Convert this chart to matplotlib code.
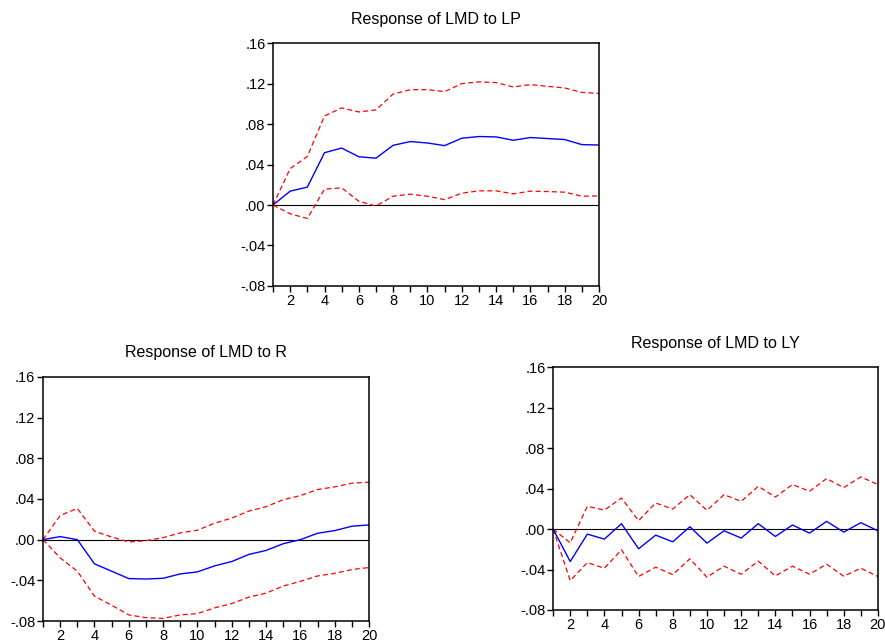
import matplotlib
matplotlib.use("Agg")
import matplotlib.pyplot as plt

plt.rcParams['font.family'] = ['Liberation Sans', 'DejaVu Sans']

periods = list(range(1, 21))

# Response of LMD to LP
lp_resp = [0, .0137, .0177, .0517, .0563, .0477, .0463, .059, .0627, .0613,
           .0587, .066, .0677, .0673, .064, .0667, .0657, .0647, .0597, .0593]
lp_upper = [0, .036, .048, .088, .096, .092, .094, .1097, .114, .114,
            .112, .12, .1217, .121, .1167, .119, .1173, .1157, .1113, .1103]
lp_lower = [0, -.0087, -.0133, .0157, .017, .0037, -.001, .0087, .0107, .0087,
            .0053, .0117, .014, .014, .011, .0137, .0133, .0127, .0087, .009]

# Response of LMD to R
r_resp = [0, .003, 0, -.0238, -.031, -.0383, -.0387, -.038, -.0337, -.0317,
          -.0258, -.0215, -.0145, -.0106, -.004, 0, .0063, .0089, .0132, .0145]
r_upper = [0, .0238, .0307, .0083, .0026, -.0023, -.001, .002, .0066, .0093,
           .0162, .0212, .0281, .0324, .0393, .0433, .0493, .0519, .0555, .0565]
r_lower = [0, -.0179, -.031, -.0555, -.0645, -.074, -.0767, -.0774, -.074, -.0727,
           -.0671, -.0628, -.0565, -.0526, -.0456, -.041, -.0357, -.0331, -.0294, -.0274]

# Response of LMD to LY
ly_resp = [0, -.0321, -.005, -.0099, .0053, -.0195, -.006, -.0126, .0023, -.0139,
           -.0017, -.0089, .0053, -.0073, .004, -.004, .0076, -.003, .0063, -.0017]
ly_upper = [0, -.0136, .0225, .0188, .0307, .0083, .0258, .0198, .034, .0185,
            .034, .0274, .0423, .0317, .044, .0374, .0499, .041, .0516, .044]
ly_lower = [0, -.0509, -.0331, -.0387, -.0205, -.0469, -.0377, -.045, -.0294, -.0476,
            -.0367, -.0446, -.0317, -.0463, -.0367, -.0446, -.0347, -.0466, -.0387, -.0469]

yticks = [-.08, -.04, 0, .04, .08, .12, .16]
ytick_labels = ['-.08', '-.04', '.00', '.04', '.08', '.12', '.16']
xtick_major = list(range(2, 21, 2))

fig = plt.figure(figsize=(8.85, 6.44), dpi=100)


def irf_panel(rect, title, resp, upper, lower):
    ax = fig.add_axes(rect)
    ax.axhline(0, color='black', lw=0.8)
    ax.plot(periods, upper, color='red', lw=0.9, linestyle=(0, (4, 2.5)))
    ax.plot(periods, lower, color='red', lw=0.9, linestyle=(0, (4, 2.5)))
    ax.plot(periods, resp, color='blue', lw=1.0)
    ax.set_xlim(1, 20)
    ax.set_ylim(-.08, .16)
    ax.set_yticks(yticks)
    ax.set_yticklabels(ytick_labels)
    ax.set_xticks(xtick_major)
    ax.set_xticks(periods, minor=True)
    ax.tick_params(axis='both', direction='out', length=4, width=1,
                   labelsize=10.5, pad=1.5)
    ax.tick_params(axis='x', which='minor', direction='out', length=4, width=1)
    for s in ax.spines.values():
        s.set_linewidth(1.1)
    ax.set_title(title, fontsize=11.5, pad=14)
    return ax


irf_panel([0.3085, 0.556, 0.3684, 0.377], 'Response of LMD to LP', lp_resp, lp_upper, lp_lower)
irf_panel([0.0486, 0.0357, 0.3684, 0.379], 'Response of LMD to R', r_resp, r_upper, r_lower)
irf_panel([0.625, 0.0528, 0.367, 0.377], 'Response of LMD to LY', ly_resp, ly_upper, ly_lower)

fig.savefig('out.png', dpi=100)
